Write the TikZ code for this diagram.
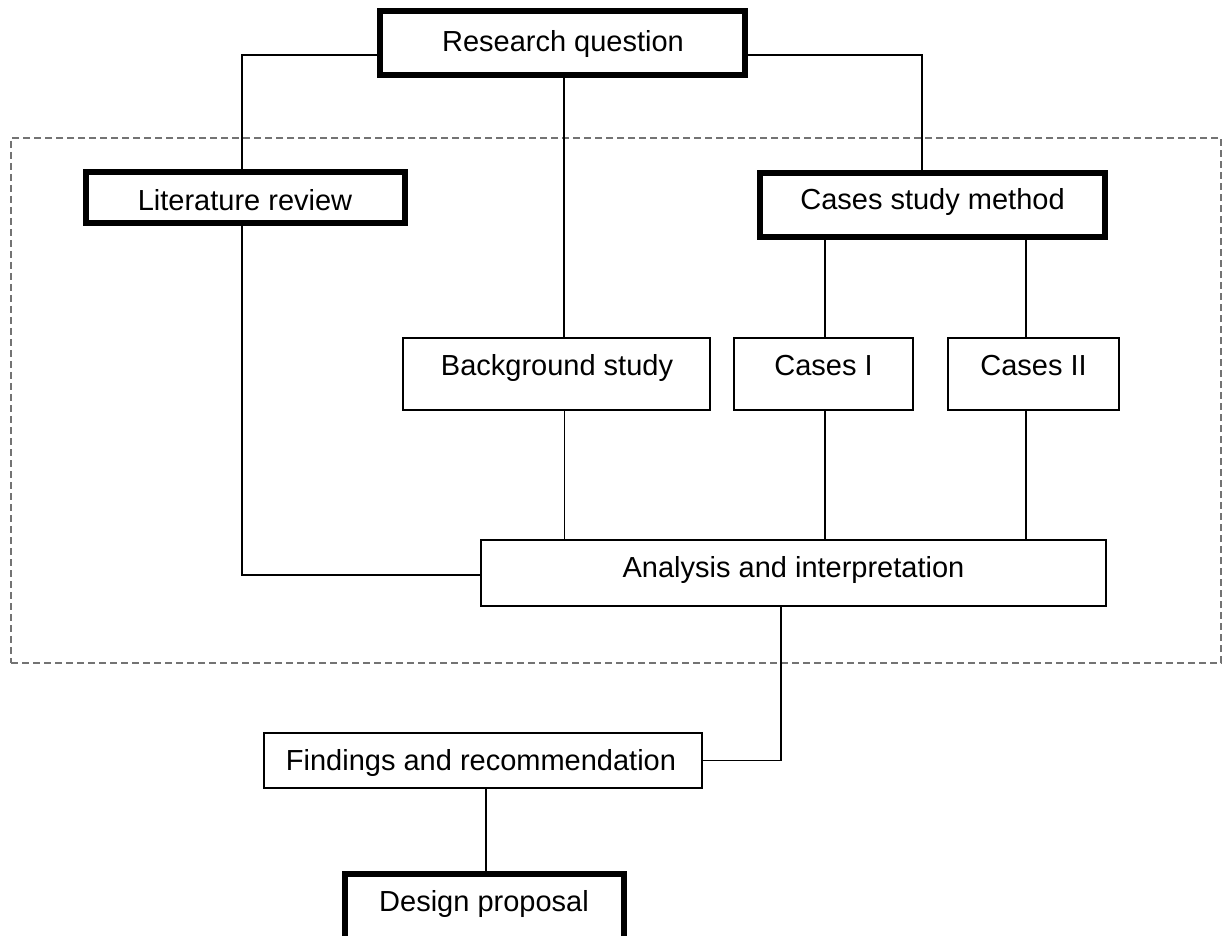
\documentclass[tikz,border=0pt]{standalone}
\usepackage{fontspec}
\setmainfont{Liberation Sans}
\begin{document}
\begin{tikzpicture}[x=1pt,y=-1pt,
  thickbox/.style={draw, line width=6pt, inner sep=0pt, outer sep=0pt},
  thinbox/.style={draw, line width=2pt, inner sep=0pt, outer sep=0pt},
  lbl/.style={anchor=base, inner sep=0pt, font=\fontsize{29}{34}\selectfont},
  conn/.style={line width=1.8pt},
  groupframe/.style={draw=black!55, line width=1.8pt, dash pattern=on 7pt off 4pt, inner sep=0pt, outer sep=0pt}]
\useasboundingbox (0,0) rectangle (1229,936);

% dashed group frame
\node[groupframe, minimum width=1210pt, minimum height=525pt] (grp) at (616,400.5) {};

% boxes
\node[thickbox, minimum width=365pt, minimum height=64pt] (rq) at (562.5,43) {};
\node[thickbox, minimum width=319pt, minimum height=51pt] (lit) at (245.5,197.5) {};
\node[thickbox, minimum width=345pt, minimum height=64pt] (csm) at (932.5,205) {};
\node[thinbox, minimum width=307pt, minimum height=72pt] (bg) at (556.5,374) {};
\node[thinbox, minimum width=179pt, minimum height=72pt] (c1) at (823.5,374) {};
\node[thinbox, minimum width=171pt, minimum height=72pt] (c2) at (1033.5,374) {};
\node[thinbox, minimum width=625pt, minimum height=66pt] (an) at (793.5,573) {};
\node[thinbox, minimum width=438pt, minimum height=55pt] (fr) at (483,760.5) {};
\node[thickbox, minimum width=279pt, minimum height=72pt] (dp) at (484.5,910) {};

% labels
\node[lbl] (rqt) at (563,52) {Research question};
\node[lbl] (litt) at (245,211) {Literature review};
\node[lbl] (csmt) at (932.5,210) {Cases study method};
\node[lbl] (bgt) at (557,375) {Background study};
\node[lbl] (c1t) at (823.5,375) {Cases I};
\node[lbl] (c2t) at (1033.5,375) {Cases II};
\node[lbl] (ant) at (793.5,577) {Analysis and interpretation};
\node[lbl] (frt) at (481,770) {Findings and recommendation};
\node[lbl] (dpt) at (484,911) {Design proposal};

% connectors
\draw[conn] ([yshift=-12pt]rq.west) -| ([xshift=-3.5pt]lit.north);
\draw[conn] ([yshift=-12pt]rq.east) -| ([xshift=-10.5pt]csm.north);
\draw[conn] ([xshift=1.5pt]rq.south) -- ([xshift=1.5pt]rq.south |- bg.north);
\draw[conn] ([xshift=1.5pt]c1.north |- csm.south) -- ([xshift=1.5pt]c1.north);
\draw[conn] ([xshift=-7.5pt]c2.north |- csm.south) -- ([xshift=-7.5pt]c2.north);
\draw[conn] ([xshift=-3.5pt]lit.south) |- ([yshift=-2pt]an.west);
\draw[conn] ([xshift=8pt]bg.south) -- ([xshift=8pt]bg.south |- an.north);
\draw[conn] ([xshift=1.5pt]c1.south) -- ([xshift=1.5pt]c1.south |- an.north);
\draw[conn] ([xshift=-7.5pt]c2.south) -- ([xshift=-7.5pt]c2.south |- an.north);
\draw[conn] ([xshift=-12.5pt]an.south) |- (fr.east);
\draw[conn] ([xshift=3pt]fr.south) -- ([xshift=3pt]fr.south |- dp.north);
\end{tikzpicture}
\end{document}
